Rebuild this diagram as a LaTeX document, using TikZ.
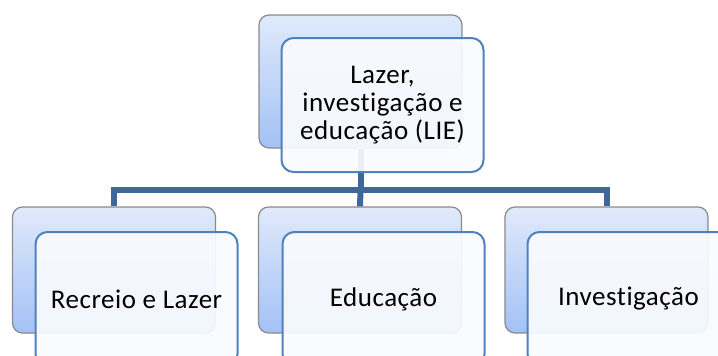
\documentclass[tikz,border=0pt]{standalone}
\usepackage{fontspec}
\setmainfont{Carlito}[Ligatures=NoCommon, LetterSpace=2]
\definecolor{backtop}{HTML}{E0EAFB}
\definecolor{backbot}{HTML}{A3C1F6}
\definecolor{backline}{HTML}{8A8A8A}
\definecolor{frontfill}{HTML}{F9FBFE}
\definecolor{frontline}{HTML}{4F81BD}
\definecolor{connc}{HTML}{3F6898}
\begin{document}
\begin{tikzpicture}[x=1pt,y=-1pt,
  backbox/.style={draw=backline, line width=1.2pt, rounded corners=10pt,
    top color=backtop, bottom color=backbot, minimum width=203pt, inner sep=0pt},
  frontbox/.style={draw=frontline, line width=2pt, rounded corners=12pt,
    fill=frontfill, fill opacity=0.92, text opacity=1, minimum width=202pt,
    minimum height=134pt, inner sep=0pt, align=center,
    font=\fontsize{27}{28}\selectfont},
  conn/.style={draw=connc, line width=6pt, line join=miter}]
\useasboundingbox (0,0) rectangle (718,356);
\clip (0,0) rectangle (718,356);
\fill[white] (0,0) rectangle (718,356);
% back boxes
\node[backbox, minimum height=133pt] (tb) at (360.5,81.5) {};
\node[backbox, minimum height=126pt] (b1) at (114,270) {};
\node[backbox, minimum height=126pt] (b2) at (360,270) {};
\node[backbox, minimum height=126pt] (b3) at (606.5,270) {};
% connectors
\coordinate (hub) at (360.5,190);
\draw[conn] (tb.south) -- (hub);
\draw[conn] (b1.north) |- (hub) -| (b3.north);
\draw[conn] (hub) -- (b2.north);
% front boxes
\node[frontbox] (tf) at (382.5,105) {Lazer,\\investigação e\\educação (LIE)};
\node[frontbox] (f1) at (136.5,299) {Recreio e Lazer};
\node[frontbox] (f2) at (383.5,299) {Educação};
\node[frontbox] (f3) at (628.5,299) {Investigação};
\end{tikzpicture}
\end{document}
